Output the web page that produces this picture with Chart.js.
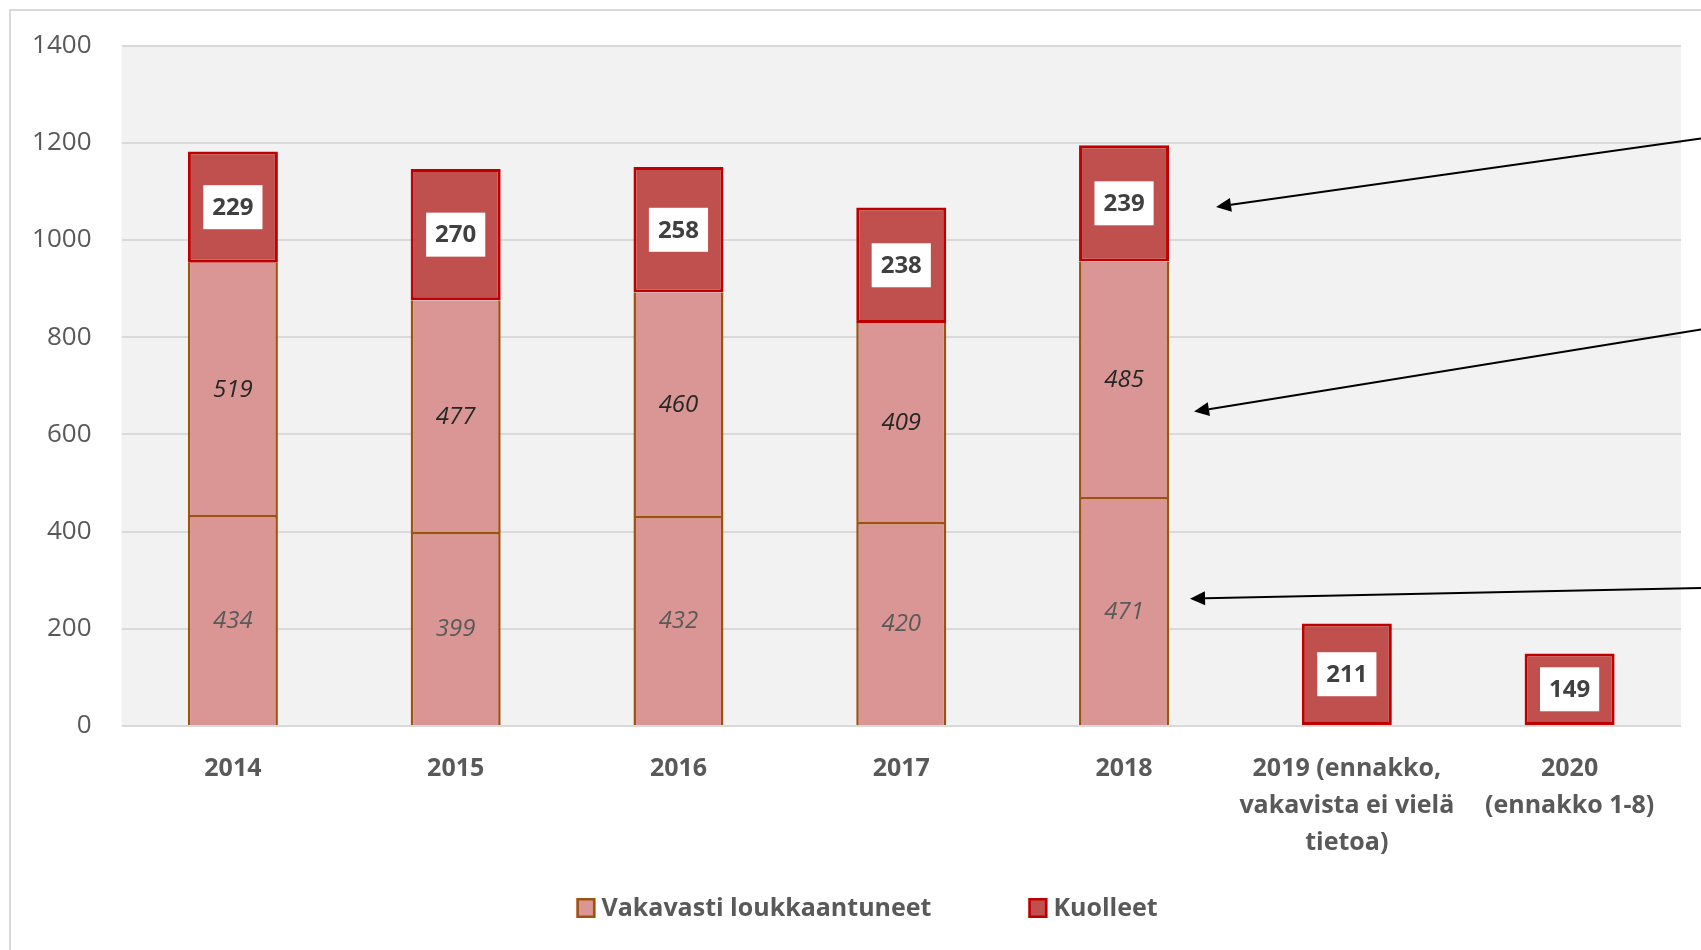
<!DOCTYPE html>
<html>
<head>
<meta charset="utf-8">
<script src="https://cdn.jsdelivr.net/npm/chart.js@4.4.0/dist/chart.umd.min.js"></script>
<style>
  html, body { margin: 0; padding: 0; background: #fff; overflow: hidden; }
  #frame { position: absolute; left: 9px; top: 9px; width: 1800px; height: 1000px; border: 2px solid #d9d9d9; box-sizing: border-box; }
  #wrap { position: absolute; left: 0; top: 0; width: 1701px; height: 950px; }
</style>
</head>
<body>
<div id="frame"></div>
<div id="wrap"><canvas id="chart"></canvas></div>
<script>
// data
const categories = ['2014', '2015', '2016', '2017', '2018',
  ['2019 (ennakko,', 'vakavista ei vielä', 'tietoa)'],
  ['2020', '(ennakko 1-8)']];
const seriousLower = [434, 399, 432, 420, 471, null, null];
const seriousUpper = [519, 477, 460, 409, 485, null, null];
const deaths = [229, 270, 258, 238, 239, 211, 149];
const yMin = 0, yMax = 1400, yStep = 200;
const seriesNames = ['Vakavasti loukkaantuneet', 'Vakavasti loukkaantuneet', 'Kuolleet'];
const legendSeries = [1, 2];

// arrows pointing at the 2018 bar (values on y scale)
const arrowCategory = 4;
const arrowFrom = [1209, 816, 284];
const arrowTo = [1068, 647, 262];
const arrowGap = [47, 25, 21];

const FONT = "'Open Sans', 'Noto Sans', sans-serif";
const PINK = '#d99694';
const BROWN = '#a0500f';
const RED = '#c0504d';
const DARKRED = '#c00000';

// harmaa tausta piirtoalueelle
const plotBg = {
  id: 'plotBg',
  beforeDraw(chart) {
    const { ctx, chartArea: a } = chart;
    ctx.save();
    ctx.fillStyle = '#f2f2f2';
    ctx.fillRect(a.left, a.top, a.right - a.left, a.bottom - a.top);
    ctx.restore();
  }
};

// arvot pylväiden sisään
const segmentLabels = {
  id: 'segmentLabels',
  afterDatasetsDraw(chart) {
    const ctx = chart.ctx;
    ctx.save();
    ctx.textAlign = 'center';
    ctx.textBaseline = 'middle';
    chart.data.datasets.forEach((ds, i) => {
      const meta = chart.getDatasetMeta(i);
      meta.data.forEach((bar, j) => {
        const v = ds.data[j];
        if (v == null) return;
        const { x, y, base } = bar.getProps(['x', 'y', 'base'], true);
        const cy = (y + base) / 2;
        const txt = String(v);
        if (i === 2) {
          ctx.font = 'bold 24px ' + FONT;
          const w = ctx.measureText(txt).width + 18;
          ctx.fillStyle = '#fff';
          ctx.fillRect(x - w / 2, cy - 22, w, 44);
          ctx.fillStyle = '#404040';
        } else {
          ctx.font = 'italic 24px ' + FONT;
          ctx.fillStyle = i === 0 ? '#595959' : '#262626';
        }
        ctx.fillText(txt, x, cy + 1);
      });
    });
    ctx.restore();
  }
};

// nuolet oikealta reunalta
const arrows = {
  id: 'arrows',
  afterDraw(chart) {
    const { ctx } = chart;
    const yScale = chart.scales.y;
    const bar = chart.getDatasetMeta(1).data[arrowCategory];
    const barRight = bar.x + bar.width / 2;
    ctx.save();
    ctx.strokeStyle = '#000';
    ctx.fillStyle = '#000';
    ctx.lineWidth = 2;
    arrowFrom.forEach((fv, k) => {
      const x0 = chart.width, y0 = yScale.getPixelForValue(fv);
      const x1 = barRight + arrowGap[k], y1 = yScale.getPixelForValue(arrowTo[k]);
      const ang = Math.atan2(y1 - y0, x1 - x0);
      const len = 15, hw = 7;
      const bx = x1 - Math.cos(ang) * len, by = y1 - Math.sin(ang) * len;
      ctx.beginPath();
      ctx.moveTo(x0, y0);
      ctx.lineTo(bx, by);
      ctx.stroke();
      ctx.beginPath();
      ctx.moveTo(x1, y1);
      ctx.lineTo(bx - Math.sin(ang) * hw, by + Math.cos(ang) * hw);
      ctx.lineTo(bx + Math.sin(ang) * hw, by - Math.cos(ang) * hw);
      ctx.closePath();
      ctx.fill();
    });
    ctx.restore();
  }
};

// selite alas, leveällä välillä kuten Excelissä
const bottomLegend = {
  id: 'bottomLegend',
  afterDraw(chart) {
    const { ctx } = chart;
    const centerX = 867, centerY = 908, gap = 97, box = 19, boxH = 20, textGap = 6;
    ctx.save();
    ctx.font = 'bold 25px ' + FONT;
    ctx.textBaseline = 'middle';
    ctx.textAlign = 'left';
    const widths = legendSeries.map(i => box + textGap + ctx.measureText(seriesNames[i]).width);
    const total = widths.reduce((s, w) => s + w, 0) + gap * (widths.length - 1);
    let x = centerX - total / 2;
    legendSeries.forEach((i, k) => {
      const ds = chart.data.datasets[i];
      ctx.fillStyle = ds.backgroundColor;
      ctx.fillRect(x, centerY - boxH / 2, box, boxH);
      ctx.strokeStyle = ds.borderColor;
      ctx.lineWidth = 2.5;
      ctx.strokeRect(x + 1.25, centerY - boxH / 2 + 1.25, box - 2.5, boxH - 2.5);
      ctx.fillStyle = '#595959';
      ctx.fillText(seriesNames[i], x + box + textGap, centerY + 1);
      x += widths[k] + gap;
    });
    ctx.restore();
  }
};

new Chart(document.getElementById('chart'), {
  type: 'bar',
  data: {
    labels: categories,
    datasets: [
      { label: seriesNames[0], data: seriousLower, backgroundColor: PINK, borderColor: BROWN,
        borderWidth: { top: 2.5, left: 2.5, right: 2.5, bottom: 0 }, borderSkipped: false },
      { label: seriesNames[1], data: seriousUpper, backgroundColor: PINK, borderColor: BROWN,
        borderWidth: { top: 0, left: 2.5, right: 2.5, bottom: 0 }, borderSkipped: false },
      { label: seriesNames[2], data: deaths, backgroundColor: RED, borderColor: DARKRED,
        borderWidth: 3, borderSkipped: false }
    ]
  },
  options: {
    responsive: true,
    maintainAspectRatio: false,
    animation: false,
    categoryPercentage: 1,
    barPercentage: 0.404,
    layout: { padding: { left: 0, right: 20, top: 44, bottom: 84 } },
    plugins: {
      tooltip: { enabled: false },
      legend: { display: false }
    },
    scales: {
      x: {
        stacked: true,
        grid: { display: false, drawTicks: false },
        border: { display: false },
        ticks: {
          color: '#595959',
          padding: 24,
          maxRotation: 0,
          autoSkip: false,
          font: { family: FONT, size: 25, weight: 'bold', lineHeight: 1.48 }
        },
        afterFit(s) { s.height = 140; }
      },
      y: {
        stacked: true,
        min: yMin,
        max: yMax,
        grid: { color: '#d9d9d9', lineWidth: 2, drawTicks: false },
        border: { display: false },
        ticks: {
          stepSize: yStep,
          padding: 30,
          color: '#595959',
          font: { family: FONT, size: 26 },
          callback: v => String(v)
        },
        afterFit(s) { s.width = 121.5; }
      }
    }
  },
  plugins: [plotBg, segmentLabels, arrows, bottomLegend]
});
</script>
</body>
</html>
